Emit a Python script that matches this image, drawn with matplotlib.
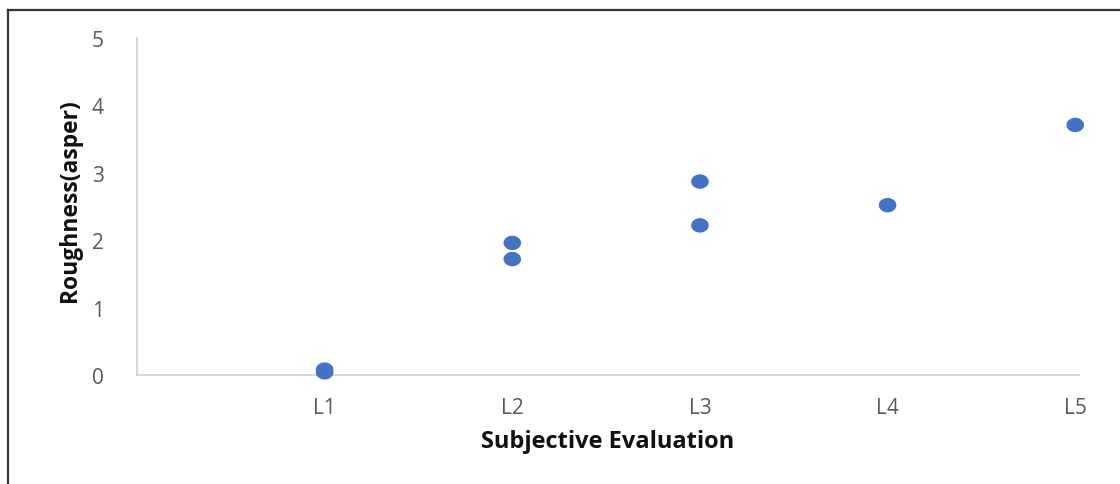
import numpy as np
import matplotlib.pyplot as plt
from matplotlib.lines import Line2D
from matplotlib.path import Path

categories = ["L1", "L2", "L3", "L4", "L5"]
x_pos = [1, 1, 2, 2, 3, 3, 4, 5]
roughness = [0.04, 0.08, 1.96, 1.72, 2.87, 2.22, 2.52, 3.71]

plt.rcParams['font.family'] = ['Open Sans', 'DejaVu Sans']

# slightly wide ellipse marker, like the stretched screenshot
t = np.linspace(0, 2 * np.pi, 60)
ellipse = Path(np.column_stack([np.cos(t), 0.82 * np.sin(t)]), closed=True)

fig = plt.figure(figsize=(11.2, 4.85), dpi=100)
ax = fig.add_axes([0.1223, 0.2247, 0.8411, 0.6949])

ax.scatter(x_pos, roughness, s=160, marker=ellipse, color="#4472C4", edgecolors="none", zorder=3, clip_on=False)

ax.set_xlim(0, 5.02)
ax.set_ylim(0, 5)
ax.set_xticks(range(1, 6))
ax.set_xticklabels(categories)
ax.set_yticks(range(0, 6))

for s in ["top", "right"]:
    ax.spines[s].set_visible(False)
for s in ["left", "bottom"]:
    ax.spines[s].set_color("#d0d0d0")
    ax.spines[s].set_linewidth(1.2)

ax.tick_params(axis="both", length=0, labelsize=15, labelcolor="#595959")
ax.tick_params(axis="y", pad=24)
ax.tick_params(axis="x", pad=16)

ax.set_xlabel("Subjective Evaluation", fontsize=17, fontweight="bold", color="#111111", labelpad=8)
ax.set_ylabel("Roughness(asper)", fontsize=16.5, fontweight="bold", color="#111111")
ax.yaxis.set_label_coords(-0.058, 0.52)

# border of the original screenshot (only left and top edges visible)
fig.add_artist(Line2D([8 / 1120, 8 / 1120], [0, 1 - 11 / 485], transform=fig.transFigure, color="#333333", lw=1.6))
fig.add_artist(Line2D([8 / 1120, 1], [1 - 11 / 485, 1 - 11 / 485], transform=fig.transFigure, color="#333333", lw=1.6))

fig.savefig("out.png", dpi=100)
